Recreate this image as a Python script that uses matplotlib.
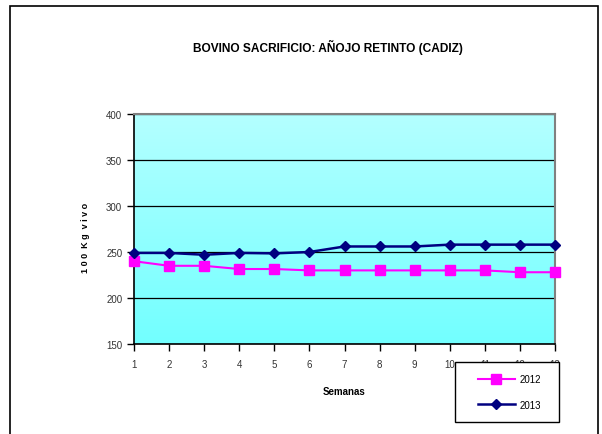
import matplotlib.pyplot as plt
import numpy as np
from matplotlib.patches import Rectangle
from matplotlib.colors import LinearSegmentedColormap

weeks = list(range(1, 14))
y2012 = [240, 235, 235, 231.5, 231.5, 230, 230, 230, 230, 230, 230, 228, 228]
y2013 = [249, 249, 247, 249, 248.5, 250, 256, 256, 256, 258, 258, 258, 258]
yticks = [150, 200, 250, 300, 350, 400]

plt.rcParams['font.family'] = ['Liberation Sans Narrow', 'Liberation Sans', 'DejaVu Sans']

W, H = 602, 435
fig = plt.figure(figsize=(W / 100, H / 100), dpi=100)

# outer frame of the chart area (bottom edge falls outside the image)
fig.patches.append(Rectangle((10 / W, -0.05), 588 / W, 1.05 - 7 / H, transform=fig.transFigure,
                             fill=False, edgecolor="black", linewidth=1.2))

ax = fig.add_axes([134 / W, 1 - 345 / H, (555 - 134) / W, (345 - 115) / H])

# cyan gradient background
cmap = LinearSegmentedColormap.from_list("bg", ["#72ffff", "#b4ffff"])
grad = np.linspace(0, 1, 256).reshape(-1, 1)
ax.imshow(grad, cmap=cmap, aspect="auto", extent=[0, 1, 0, 1], origin="lower",
          transform=ax.transAxes, zorder=0)

ax.set_xlim(1, 13)
ax.set_ylim(150, 400)
ax.set_yticks(yticks)
ax.set_xticks(weeks)
ax.grid(axis="y", color="black", linewidth=0.9, zorder=1)
ax.set_axisbelow(True)

ax.plot(weeks, y2012, color="#ff00ff", marker="s", markersize=7, linewidth=1.5,
        label="2012", zorder=3, clip_on=False)
ax.plot(weeks, y2013, color="#000080", marker="D", markersize=5, linewidth=1.8,
        label="2013", zorder=4, clip_on=False)

for s in ["top", "right"]:
    ax.spines[s].set_color("#808080")
    ax.spines[s].set_linewidth(1.5)
for s in ["left", "bottom"]:
    ax.spines[s].set_color("black")
    ax.spines[s].set_linewidth(1.2)

ax.tick_params(axis="both", direction="out", length=5, width=1, labelsize=7,
               colors="black", labelcolor="#333333")
ax.tick_params(axis="x", pad=6)

ax.set_xlabel("Semanas", fontsize=7, fontweight="bold", labelpad=12)
ax.set_ylabel("1 0 0  K g  v i v o", fontsize=6.5, fontweight="bold")
ax.yaxis.set_label_coords(-0.105, 0.465)

fig.text(328 / W, 1 - 47 / H, "BOVINO SACRIFICIO: AÑOJO RETINTO (CADIZ)",
         ha="center", va="center", fontsize=8.6, fontweight="bold")

# legend box drawn separately, entries placed inside with a left inset
ax.add_patch(Rectangle((455 / W, 1 - 423 / H), 104 / W, 60 / H, transform=fig.transFigure,
                       facecolor="white", edgecolor="black", linewidth=1,
                       zorder=4.5, clip_on=False))
leg = ax.legend(loc="center left", bbox_to_anchor=(478 / W, 1 - 393 / H),
                bbox_transform=fig.transFigure, frameon=False,
                fontsize=7, handlelength=3.8, handletextpad=0.5,
                labelspacing=1.6, borderpad=0, borderaxespad=0)
leg.set_zorder(6)

fig.savefig("out.png", dpi=100)
